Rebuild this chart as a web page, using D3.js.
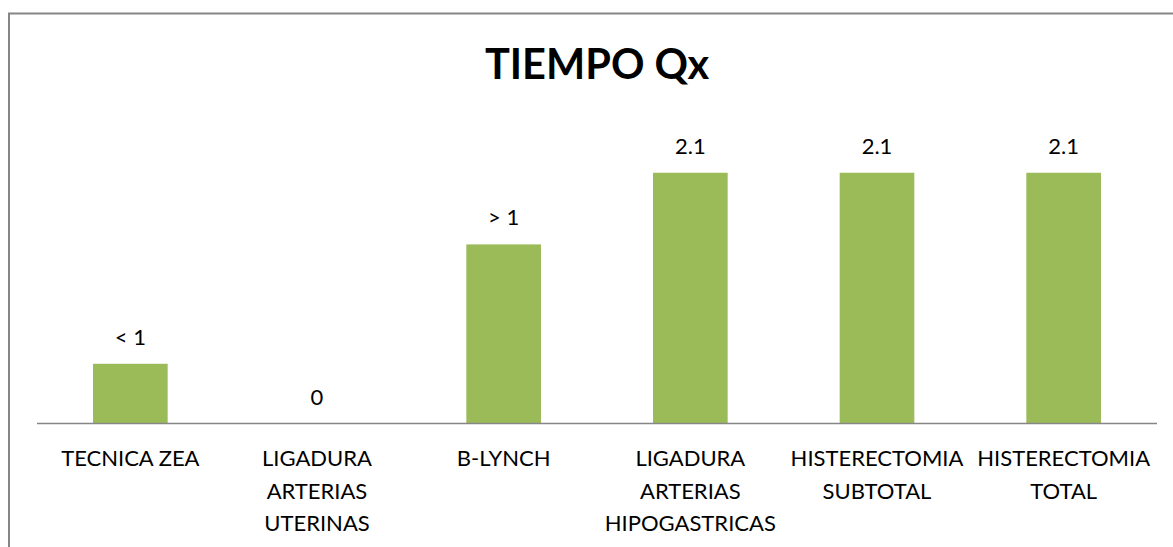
<!DOCTYPE html>
<html><head><meta charset="utf-8">
<script src="https://cdn.jsdelivr.net/npm/d3@7/dist/d3.min.js"></script>
<style>body{margin:0;background:#fff;overflow:hidden}</style>
</head><body>
<script>
const categories = [["TECNICA ZEA"],["LIGADURA","ARTERIAS","UTERINAS"],["B-LYNCH"],["LIGADURA","ARTERIAS","HIPOGASTRICAS"],["HISTERECTOMIA","SUBTOTAL"],["HISTERECTOMIA","TOTAL"]];
const values = [0.5, 0, 1.5, 2.1, 2.1, 2.1];
const valueLabels = ["< 1", "0", "> 1", "2.1", "2.1", "2.1"];
const title = "TIEMPO Qx";

const W = 1173, H = 547;
const svg = d3.select("body").append("svg").attr("width", W).attr("height", H);
const font = "Lato, 'Open Sans', sans-serif";

// frame
svg.append("rect").attr("x", 9).attr("y", 13.5).attr("width", 1200).attr("height", 600)
  .attr("fill", "none").attr("stroke", "#868686").attr("stroke-width", 2);

const x = d3.scaleBand().domain(d3.range(categories.length)).range([37, 1157]).paddingInner(0.6).paddingOuter(0.3);
const y = d3.scaleLinear().domain([0, 2.5]).range([423.5, 125]);

svg.append("text").attr("x", 597).attr("y", 79).attr("text-anchor", "middle")
  .attr("font-family", font).attr("font-weight", "bold").attr("font-size", 41.5).attr("fill", "#000").text(title);

svg.selectAll("rect.bar").data(values).join("rect").attr("class", "bar")
  .attr("x", (d, i) => x(i)).attr("width", x.bandwidth())
  .attr("y", d => y(d)).attr("height", d => y(0) - y(d)).attr("fill", "#9bbb59");

const axis = svg.append("g").attr("transform", `translate(0,${y(0)})`)
  .call(d3.axisBottom(x).tickSize(0).tickFormat(""));
axis.select(".domain").attr("stroke", "#868686").attr("stroke-width", 1.5).attr("d", "M37,0H1157");

svg.selectAll("text.vl").data(values).join("text").attr("class", "vl")
  .attr("x", (d, i) => x(i) + x.bandwidth() / 2).attr("y", d => y(d) - 19)
  .attr("text-anchor", "middle").attr("font-family", font).attr("font-size", 22).attr("fill", "#000")
  .text((d, i) => valueLabels[i]);

const cl = svg.selectAll("text.cl").data(categories).join("text").attr("class", "cl")
  .attr("text-anchor", "middle").attr("font-family", font).attr("font-size", 22).attr("fill", "#000");
cl.each(function(lines, i) {
  d3.select(this).selectAll("tspan").data(lines).join("tspan")
    .attr("x", x(i) + x.bandwidth() / 2).attr("y", (l, j) => 466 + j * 32.5).text(l => l);
});
</script>
</body></html>
